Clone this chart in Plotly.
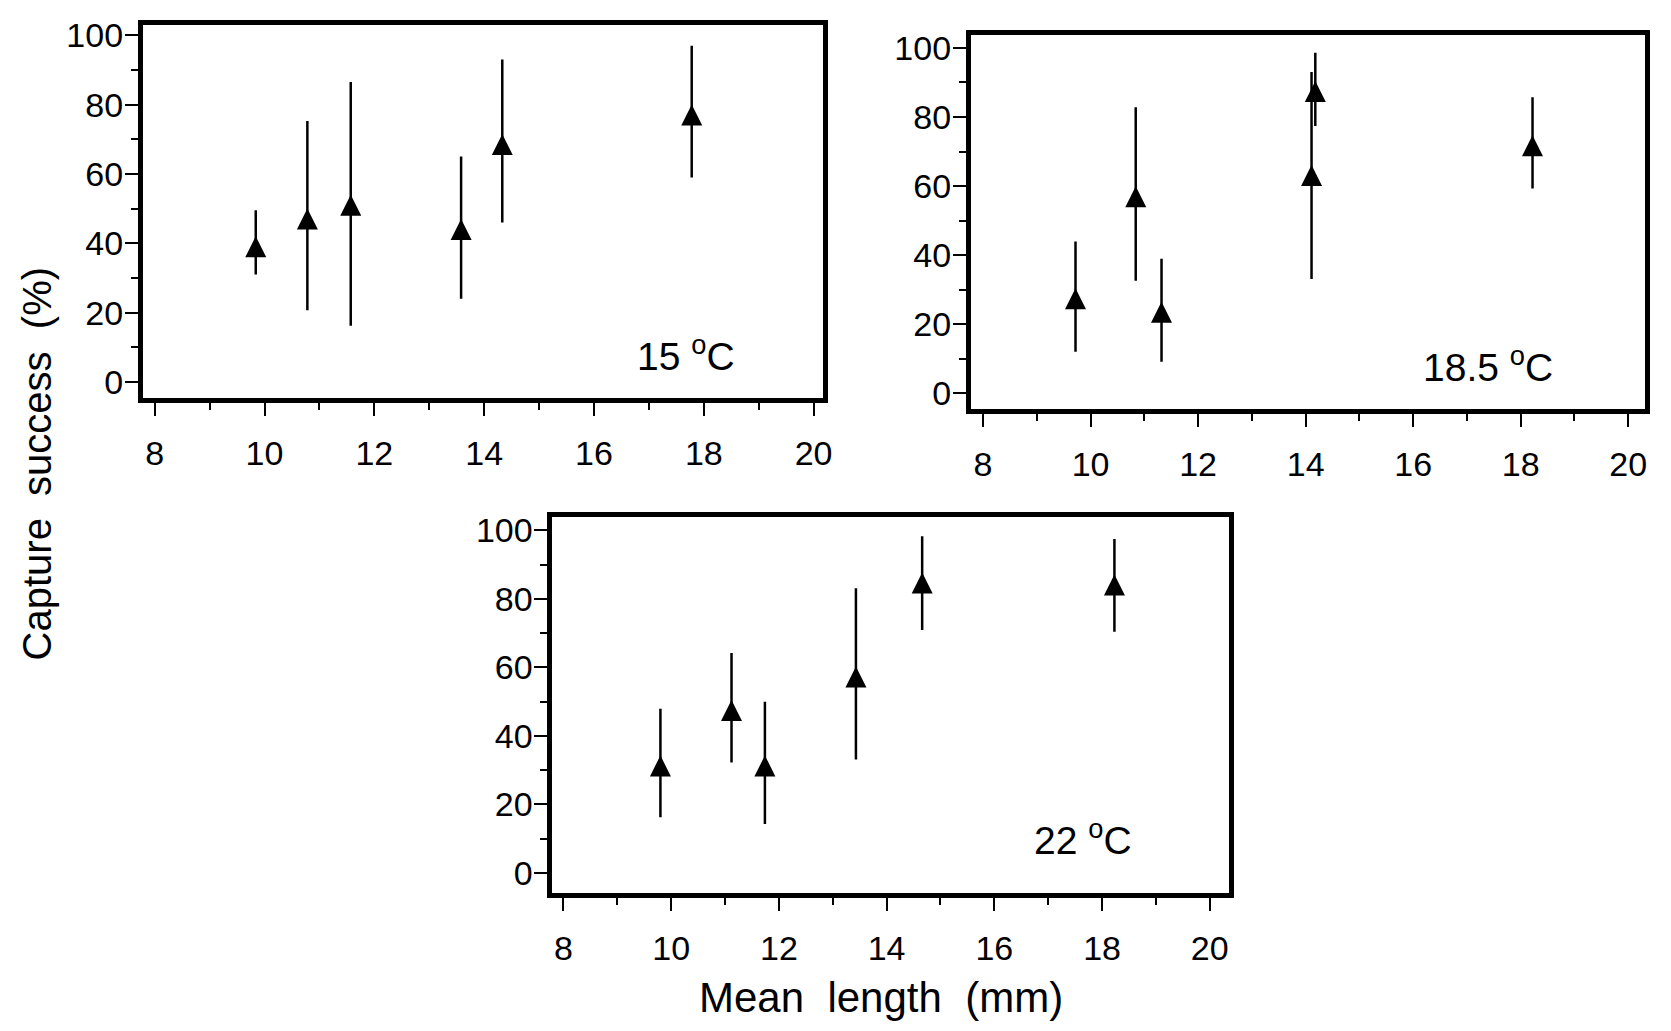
import plotly.graph_objects as go

# ---------------- data ----------------
# 15 oC
len_15 = [9.84, 10.78, 11.57, 13.58, 14.33, 17.78]
succ_15 = [39.0, 47.0, 51.0, 44.0, 68.5, 77.0]
upper_15 = [49.5, 75.3, 86.5, 65.0, 93.0, 97.0]
lower_15 = [31.0, 20.7, 16.2, 24.0, 46.0, 59.0]

# 18.5 oC
len_185 = [9.72, 10.84, 11.32, 14.11, 14.18, 18.22]
succ_185 = [27.4, 56.9, 23.5, 63.1, 87.4, 71.7]
upper_185 = [44.0, 82.8, 39.0, 93.0, 98.6, 85.7]
lower_185 = [12.1, 32.6, 9.2, 33.1, 77.4, 59.3]

# 22 oC
len_22 = [9.80, 11.12, 11.74, 13.43, 14.66, 18.23]
succ_22 = [31.2, 47.4, 31.2, 57.2, 84.6, 84.0]
upper_22 = [47.9, 64.2, 49.9, 83.1, 98.3, 97.5]
lower_22 = [16.2, 32.2, 14.2, 33.1, 70.9, 70.4]

panel_labels = ["15 <sup>o</sup>C", "18.5 <sup>o</sup>C", "22 <sup>o</sup>C"]
x_ticks = [8, 10, 12, 14, 16, 18, 20]
y_ticks = [0, 20, 40, 60, 80, 100]
x_title = "Mean  length  (mm)"
y_title = "Capture  success  (%)"

# ---------------- layout helpers ----------------
W, H = 1671, 1031
FONT = "Liberation Sans, Arial, Helvetica, sans-serif"

panels = [
    dict(x=len_15, y=succ_15, hi=upper_15, lo=lower_15,
         px=(143.5, 827.9), py=(16.1, 393.8), xr=[7.78, 20.17], yr=[-4.7, 103.0],
         lab=(690, 349)),
    dict(x=len_185, y=succ_185, hi=upper_185, lo=lower_185,
         px=(976.5, 1654.8), py=(26.8, 405.1), xr=[7.77, 20.31], yr=[-4.6, 103.6],
         lab=(1497, 360)),
    dict(x=len_22, y=succ_22, hi=upper_22, lo=lower_22,
         px=(555.5, 1236.0), py=(514.3, 894.7), xr=[7.79, 20.35], yr=[-6.0, 103.8],
         lab=(1090, 838)),
]

fig = go.Figure()
MS = 21
for i, p in enumerate(panels):
    sfx = "" if i == 0 else str(i + 1)
    fig.add_trace(go.Scatter(
        x=p["x"], y=p["y"], mode="markers",
        xaxis="x" + sfx, yaxis="y" + sfx,
        marker=dict(symbol="arrow-down", angle=180, standoff=MS / 2,
                    size=MS, color="black", line=dict(width=0)),
        error_y=dict(type="data", symmetric=False,
                     array=[h - v for h, v in zip(p["hi"], p["y"])],
                     arrayminus=[v - l for v, l in zip(p["y"], p["lo"])],
                     color="black", thickness=2.5, width=0),
        showlegend=False, hoverinfo="skip",
    ))
    axcommon = dict(showline=True, mirror=True, linewidth=4.5, linecolor="black",
                    showgrid=False, zeroline=False, ticks="outside",
                    tickwidth=2.2, ticklen=13, tickcolor="black",
                    tickfont=dict(family=FONT, size=34, color="black"))
    xd = [p["px"][0] / W, p["px"][1] / W]
    yd = [1 - p["py"][1] / H, 1 - p["py"][0] / H]
    fig.update_layout(**{
        "xaxis" + sfx: dict(axcommon, domain=xd, range=p["xr"], anchor="y" + sfx,
                            tickvals=x_ticks, ticklabelstandoff=8,
                            minor=dict(ticks="outside", ticklen=7, tickwidth=2,
                                       tickcolor="black", dtick=1, tick0=8)),
        "yaxis" + sfx: dict(axcommon, domain=yd, range=p["yr"], anchor="x" + sfx,
                            tickvals=y_ticks, ticklabelstandoff=-5,
                            minor=dict(ticks="outside", ticklen=7, tickwidth=2,
                                       tickcolor="black", dtick=10, tick0=0)),
    })
    fig.add_annotation(text=panel_labels[i], x=p["lab"][0] / W, y=1 - p["lab"][1] / H,
                       xref="paper", yref="paper", showarrow=False,
                       xanchor="center", yanchor="middle",
                       font=dict(family=FONT, size=39, color="black"))

fig.add_annotation(text=x_title, x=886 / W, y=1 - 1000 / H, xref="paper", yref="paper",
                   showarrow=False, xanchor="center", yanchor="middle",
                   font=dict(family=FONT, size=42, color="black"))
fig.add_annotation(text=y_title, x=37 / W, y=1 - 460 / H, xref="paper", yref="paper",
                   showarrow=False, xanchor="center", yanchor="middle", textangle=-90,
                   font=dict(family=FONT, size=40, color="black"))

fig.update_layout(width=W, height=H, margin=dict(l=0, r=0, t=0, b=0),
                  paper_bgcolor="white", plot_bgcolor="white", autosize=False)

fig.write_html("out.html")
